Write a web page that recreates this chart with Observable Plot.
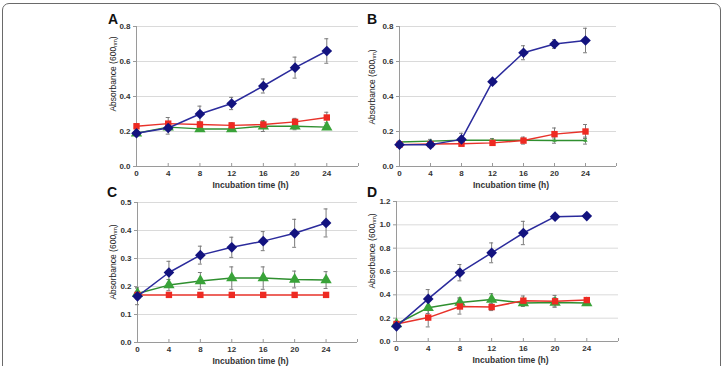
<!DOCTYPE html>
<html>
<head>
<meta charset="utf-8">
<script src="https://cdn.jsdelivr.net/npm/d3@7"></script>
<script src="https://cdn.jsdelivr.net/npm/@observablehq/plot@0.6"></script>
<style>
  html, body { margin: 0; padding: 0; background: #fff; }
  #wrap { position: relative; width: 725px; height: 366px; overflow: hidden; background: #fff; font-family: "Liberation Sans", Arial, sans-serif; }
  #frame { position: absolute; left: 2px; top: 3px; width: 717px; height: 420px; border: 1.5px solid #6a6a6a; border-radius: 7px; }
  .plotlayer { position: absolute; left: 0; top: 0; }
  .letter { position: absolute; font-weight: bold; font-size: 14px; line-height: 1; color: #111; }
  .ylab { position: absolute; font-size: 8.5px; color: #222; white-space: nowrap; transform: translate(-50%, -50%) rotate(-90deg); }
  .ylab sub { font-size: 5.5px; vertical-align: -1px; }
</style>
</head>
<body>
<div id="wrap">
  <div id="frame"></div>
</div>
<script>
// ---- data ----
const times = [0, 4, 8, 12, 16, 20, 24];
const xTicks = [0, 4, 8, 12, 16, 20, 24, 28];
const xTitle = "Incubation time (h)";
const yTitleMain = "Absorbance (600";
const yTitleSub = "nm";
const panelLetters = ["A", "B", "C", "D"];
const yMax = [0.8, 0.8, 0.5, 1.2];
const yStep = [0.2, 0.2, 0.1, 0.2];

// Panel A
const aBlue = [0.19, 0.22, 0.30, 0.36, 0.46, 0.565, 0.66];
const aBlueErr = [0.01, 0.035, 0.045, 0.035, 0.04, 0.06, 0.07];
const aRed = [0.23, 0.245, 0.24, 0.235, 0.24, 0.255, 0.28];
const aRedErr = [0.015, 0.035, 0.015, 0.015, 0.02, 0.02, 0.03];
const aGreen = [0.19, 0.225, 0.215, 0.215, 0.23, 0.23, 0.225];
const aGreenErr = [0.01, 0.02, 0.01, 0.01, 0.03, 0.02, 0.01];
// Panel B
const bBlue = [0.125, 0.125, 0.155, 0.485, 0.65, 0.70, 0.72];
const bBlueErr = [0.01, 0.01, 0.035, 0.01, 0.04, 0.025, 0.07];
const bRed = [0.125, 0.128, 0.13, 0.135, 0.148, 0.185, 0.20];
const bRedErr = [0.01, 0.01, 0.01, 0.01, 0.02, 0.035, 0.04];
const bGreen = [0.14, 0.145, 0.15, 0.15, 0.15, 0.148, 0.148];
const bGreenErr = [0.005, 0.01, 0.01, 0.01, 0.01, 0.015, 0.02];
// Panel C
const cBlue = [0.165, 0.25, 0.312, 0.34, 0.362, 0.39, 0.427];
const cBlueErr = [0.03, 0.04, 0.032, 0.036, 0.034, 0.05, 0.05];
const cRed = [0.17, 0.17, 0.17, 0.17, 0.17, 0.17, 0.17];
const cRedErr = [0, 0, 0, 0, 0, 0, 0];
const cGreen = [0.175, 0.205, 0.22, 0.23, 0.23, 0.225, 0.223];
const cGreenErr = [0.02, 0.02, 0.03, 0.04, 0.04, 0.03, 0.03];
// Panel D
const dBlue = [0.13, 0.365, 0.59, 0.76, 0.93, 1.07, 1.075];
const dBlueErr = [0.02, 0.08, 0.07, 0.085, 0.1, 0.01, 0.01];
const dRed = [0.15, 0.205, 0.30, 0.295, 0.35, 0.345, 0.355];
const dRedErr = [0.02, 0.08, 0.065, 0.03, 0.04, 0.05, 0.01];
const dGreen = [0.15, 0.29, 0.335, 0.36, 0.33, 0.335, 0.33];
const dGreenErr = [0.02, 0.05, 0.04, 0.05, 0.03, 0.04, 0.01];

const seriesData = [
  {blue: aBlue, blueErr: aBlueErr, red: aRed, redErr: aRedErr, green: aGreen, greenErr: aGreenErr},
  {blue: bBlue, blueErr: bBlueErr, red: bRed, redErr: bRedErr, green: bGreen, greenErr: bGreenErr},
  {blue: cBlue, blueErr: cBlueErr, red: cRed, redErr: cRedErr, green: cGreen, greenErr: cGreenErr},
  {blue: dBlue, blueErr: dBlueErr, red: dRed, redErr: dRedErr, green: dGreen, greenErr: dGreenErr}
];

// ---- layout (pixel frame of each panel inside the 725x366 page) ----
const W = 725, H = 366;
const frames = [
  {left: 136, right: 358, top: 26, bottom: 166, letter: [108, 12], ylab: [113, 74], greenR: 4.2},
  {left: 399, right: 616, top: 26, bottom: 166, letter: [367, 12], ylab: [372, 87], greenR: 1.6},
  {left: 137, right: 357, top: 202, bottom: 342, letter: [107, 185], ylab: [113, 262], greenR: 4.2},
  {left: 396, right: 618, top: 201, bottom: 341, letter: [367, 185], ylab: [372, 251], greenR: 4.2}
];

const styles = {
  green: {line: "#2f8f2f", fill: "#39a339", symbol: "triangle", r: 4.2},
  red:   {line: "#e8322a", fill: "#ee2a22", symbol: "square", r: 3.6},
  blue:  {line: "#2b2b9c", fill: "#13137f", symbol: "diamond2", r: 4.8}
};
const order = ["green", "red", "blue"];

const wrap = document.getElementById("wrap");

frames.forEach((f, i) => {
  const sd = seriesData[i];
  const rows = [];
  for (const s of order) {
    times.forEach((t, j) => rows.push({t, v: sd[s][j], e: sd[s + "Err"][j], s}));
  }
  const errRows = rows.filter(d => d.e > 0);
  const yt = d3.range(0, yMax[i] + 1e-9, yStep[i]).map(v => +v.toFixed(2));

  const marks = [
    Plot.gridY(yt, {stroke: "#d0d0d0", strokeOpacity: 1, strokeWidth: 0.8}),
    Plot.axisY(yt, {tickSize: 3, tickPadding: 3, tickFormat: d3.format(".1f"), label: null,
      stroke: "#9a9a9a", fill: "#333", fontWeight: "bold", fontSize: 8}),
    Plot.axisX(xTicks, {tickSize: -3, tickPadding: 7, label: null,
      tickFormat: d => d === 28 ? "" : String(d),
      stroke: "#9a9a9a", fill: "#333", fontWeight: "bold", fontSize: 8}),
    Plot.ruleX([0], {stroke: "#9a9a9a", strokeWidth: 1}),
    Plot.ruleY([0], {stroke: "#9a9a9a", strokeWidth: 1}),
    Plot.text([xTitle], {frameAnchor: "bottom", dy: 21, dx: 3, fill: "#333", fontWeight: "bold", fontSize: 8.5}),
    // error bars
    Plot.ruleX(errRows, {x: "t", y1: d => d.v - d.e, y2: d => d.v + d.e, stroke: "#7a7a7a", strokeWidth: 1}),
    Plot.ruleY(errRows, {y: d => d.v + d.e, x1: d => d.t - 0.25, x2: d => d.t + 0.25, stroke: "#7a7a7a", strokeWidth: 1}),
    Plot.ruleY(errRows, {y: d => d.v - d.e, x1: d => d.t - 0.25, x2: d => d.t + 0.25, stroke: "#7a7a7a", strokeWidth: 1})
  ];
  for (const s of order) {
    const st = styles[s];
    const sr = rows.filter(d => d.s === s);
    const r = s === "green" ? f.greenR : st.r;
    marks.push(Plot.line(sr, {x: "t", y: "v", stroke: st.line, strokeWidth: 1.5}));
    marks.push(Plot.dot(sr, {x: "t", y: "v", symbol: st.symbol, r, fill: st.fill, stroke: "none"}));
  }

  const chart = Plot.plot({
    width: W, height: H,
    marginLeft: f.left, marginRight: W - f.right, marginTop: f.top, marginBottom: H - f.bottom,
    style: {background: "transparent", fontFamily: "'Liberation Sans', Arial, sans-serif", color: "#333", overflow: "visible"},
    x: {domain: [0, 28], axis: null},
    y: {domain: [0, yMax[i]], axis: null},
    marks
  });
  chart.classList.add("plotlayer");
  chart.style.position = "absolute";
  chart.style.left = "0px";
  chart.style.top = "0px";
  wrap.appendChild(chart);

  const L = document.createElement("div");
  L.className = "letter";
  L.textContent = panelLetters[i];
  L.style.left = f.letter[0] + "px";
  L.style.top = f.letter[1] + "px";
  wrap.appendChild(L);

  const Y = document.createElement("div");
  Y.className = "ylab";
  Y.style.left = f.ylab[0] + "px";
  Y.style.top = f.ylab[1] + "px";
  Y.append(yTitleMain);
  const sub = document.createElement("sub");
  sub.textContent = yTitleSub;
  Y.append(sub, ")");
  wrap.appendChild(Y);
});
</script>
</body>
</html>
